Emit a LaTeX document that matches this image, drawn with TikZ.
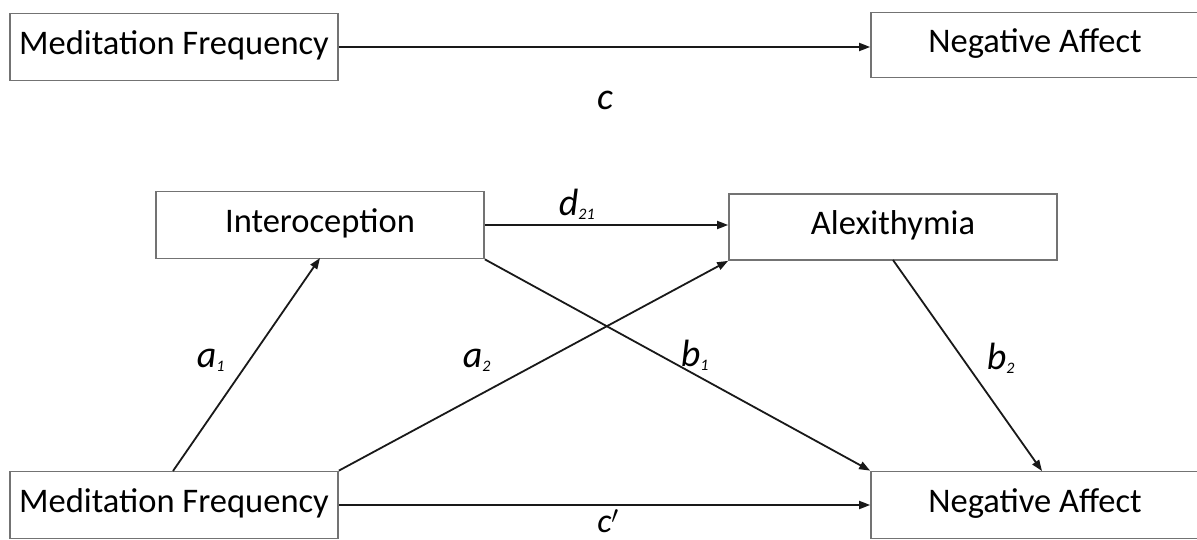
\documentclass[tikz,border=0pt]{standalone}
\usepackage{fontspec}
\setmainfont{Carlito}
\usetikzlibrary{arrows.meta}
\begin{document}
\begin{tikzpicture}[x=1pt,y=-1pt,
  box/.style={draw=black!55, line width=1.7pt, fill=white, inner sep=0pt,
    font=\fontsize{34.5}{40}\selectfont, text depth=8pt},
  conn/.style={draw=black!90, line width=1.8pt, -{Triangle[length=11pt,width=8pt]}},
  lab/.style={font=\fontsize{38}{40}\selectfont\itshape, inner sep=0pt}]
\useasboundingbox (0,0) rectangle (1197,540);
\fill[white] (0,0) rectangle (1197,540);
% top model
\node[box, minimum width=328pt, minimum height=67pt] (mf1) at (174,47) {Meditation Frequency};
\node[box, minimum width=340pt, minimum height=65pt] (na1) at (1041,45) {\hspace*{-12pt}Negative Affect};
\draw[conn] (mf1.east) -- (mf1.east -| na1.west);
\node[lab] (c) at (605,100) {c};
% bottom model
\node[box, minimum width=328pt, minimum height=67pt] (int) at (320,225) {Interoception};
\node[box, minimum width=328pt, minimum height=66pt] (alx) at (893,227) {Alexithymia};
\node[box, minimum width=328pt, minimum height=67pt] (mf2) at (174,505) {Meditation Frequency};
\node[box, minimum width=340pt, minimum height=67pt] (na2) at (1041,505) {\hspace*{-12pt}Negative Affect};
\coordinate (a1s) at (173,471);
\coordinate (a1e) at (320,258);
\coordinate (b2s) at (893,260);
\coordinate (b2e) at (1042,471);
\draw[conn] (int.east) -- (int.east -| alx.west);
\draw[conn] (a1s) -- (a1e);
\draw[conn] (mf2.north east) -- (alx.south west);
\draw[conn] (int.south east) -- (na2.north west);
\draw[conn] (b2s) -- (b2e);
\draw[conn] (mf2.east) -- (mf2.east -| na2.west);
\node[lab] (d21) at (577,204) {d\textsubscript{\fontsize{16}{18}\selectfont 21}};
\node[lab] (a1) at (211,360) {a\textsubscript{\fontsize{16}{18}\selectfont 1}};
\node[lab] (a2) at (477,360) {a\textsubscript{\fontsize{16}{18}\selectfont 2}};
\node[lab] (b1) at (695,355) {b\textsubscript{\fontsize{16}{18}\selectfont 1}};
\node[lab] (b2) at (1001,358) {b\textsubscript{\fontsize{16}{18}\selectfont 2}};
\node[lab, font=\fontsize{34}{36}\selectfont\itshape] (cp) at (608,521) {c$'$};
\end{tikzpicture}
\end{document}
